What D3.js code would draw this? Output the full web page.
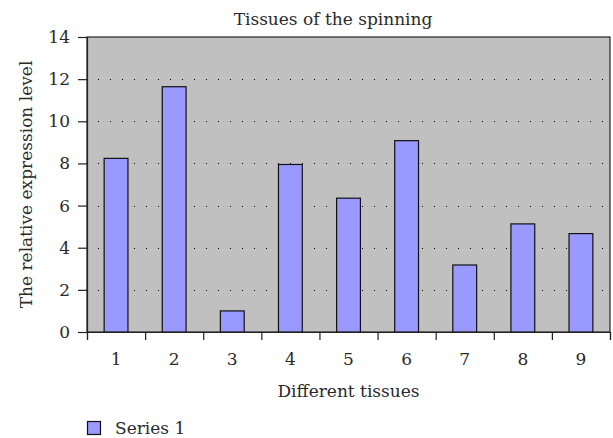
<!DOCTYPE html>
<html>
<head>
<meta charset="utf-8">
<script src="https://cdn.jsdelivr.net/npm/d3@7"></script>
<style>
  body { margin: 0; background: #fff; }
  svg text { font-family: "DejaVu Serif", "Liberation Serif", serif; fill: #2a2a2a; }
</style>
</head>
<body>
<svg id="svg"></svg>
<script>
// chart data
const tissues = ["1", "2", "3", "4", "5", "6", "7", "8", "9"];
const series1 = [8.24, 11.64, 1.0, 7.95, 6.35, 9.08, 3.18, 5.13, 4.67];
const yTicks = [0, 2, 4, 6, 8, 10, 12, 14];
const seriesName = "Series 1";

const w = 613;
const h = 438;
const margin = { top: 37, right: 3, bottom: 106, left: 87 };
const fontSize = "17px";

let svg = d3.select("#svg")
    .attr("width", w)
    .attr("height", h);

let chartWidth = w - margin.left - margin.right;
let chartHeight = h - margin.top - margin.bottom;

let xScale = d3.scaleBand()
    .domain(tissues)
    .range([margin.left, margin.left + chartWidth])
    .paddingInner(0)
    .paddingOuter(0);

let yScale = d3.scaleLinear()
    .domain([0, 14])
    .range([margin.top + chartHeight, margin.top]);

// plot background
svg.append("rect")
    .attr("x", margin.left)
    .attr("y", margin.top)
    .attr("width", chartWidth)
    .attr("height", chartHeight)
    .attr("fill", "#c0c0c0")
    .attr("stroke", "#222")
    .attr("stroke-width", 1.2);

// dotted gridlines
svg.selectAll(".grid")
    .data(yTicks.filter(d => d > 0 && d < 14))
    .enter()
    .append("line")
    .attr("class", "grid")
    .attr("x1", margin.left + 11)
    .attr("x2", margin.left + chartWidth)
    .attr("y1", d => Math.round(yScale(d)) + 0.5)
    .attr("y2", d => Math.round(yScale(d)) + 0.5)
    .attr("stroke", "#000")
    .attr("stroke-width", 1)
    .attr("stroke-dasharray", "1,11");

// bars
const barW = xScale.bandwidth() * 0.41;
svg.selectAll(".bar")
    .data(series1)
    .enter()
    .append("rect")
    .attr("class", "bar")
    .attr("x", (d, i) => xScale(tissues[i]) + (xScale.bandwidth() - barW) / 2)
    .attr("y", d => yScale(d))
    .attr("width", barW)
    .attr("height", d => yScale(0) - yScale(d))
    .attr("fill", "#9999ff")
    .attr("stroke", "#111")
    .attr("stroke-width", 1.2);

// y axis
let yAxis = d3.axisLeft(yScale)
    .tickValues(yTicks)
    .tickSize(9)
    .tickPadding(8);
let yG = svg.append("g")
    .attr("transform", "translate(" + margin.left + ",0)")
    .call(yAxis);
yG.select(".domain").attr("stroke", "#222").attr("stroke-width", 1.2);
yG.selectAll(".tick line").attr("stroke", "#222").attr("stroke-width", 1.2);
yG.selectAll("text")
    .style("font-size", fontSize)
    .attr("fill", "#2a2a2a");

// x axis: ticks at category boundaries
let xAxisScale = d3.scaleLinear()
    .domain([0, tissues.length])
    .range([margin.left, margin.left + chartWidth]);
let xAxis = d3.axisBottom(xAxisScale)
    .tickValues(d3.range(0, tissues.length + 1))
    .tickSize(8)
    .tickFormat("");
let xG = svg.append("g")
    .attr("transform", "translate(0," + yScale(0) + ")")
    .call(xAxis);
xG.select(".domain").attr("stroke", "#222").attr("stroke-width", 1.2);
xG.selectAll(".tick line").attr("stroke", "#222").attr("stroke-width", 1.2);

svg.selectAll(".x-label")
    .data(tissues)
    .enter()
    .append("text")
    .attr("class", "x-label")
    .attr("x", d => xScale(d) + xScale.bandwidth() / 2)
    .attr("y", yScale(0) + 33)
    .attr("text-anchor", "middle")
    .style("font-size", fontSize)
    .text(d => d);

// title
svg.append("text")
    .attr("x", 333)
    .attr("y", 25)
    .attr("text-anchor", "middle")
    .style("font-size", fontSize)
    .text("Tissues of the spinning");

// axis titles
svg.append("text")
    .attr("x", margin.left + chartWidth / 2)
    .attr("y", yScale(0) + 65)
    .attr("text-anchor", "middle")
    .style("font-size", fontSize)
    .text("Different tissues");

svg.append("text")
    .attr("transform", "translate(32," + (margin.top + chartHeight / 2) + ") rotate(-90)")
    .attr("text-anchor", "middle")
    .style("font-size", fontSize)
    .text("The relative expression level");

// legend
svg.append("rect")
    .attr("x", 87.5)
    .attr("y", 421.5)
    .attr("width", 13)
    .attr("height", 13)
    .attr("fill", "#9999ff")
    .attr("stroke", "#111")
    .attr("stroke-width", 1.2);
svg.append("text")
    .attr("x", 115)
    .attr("y", 434)
    .style("font-size", fontSize)
    .text(seriesName);
</script>
</body>
</html>
